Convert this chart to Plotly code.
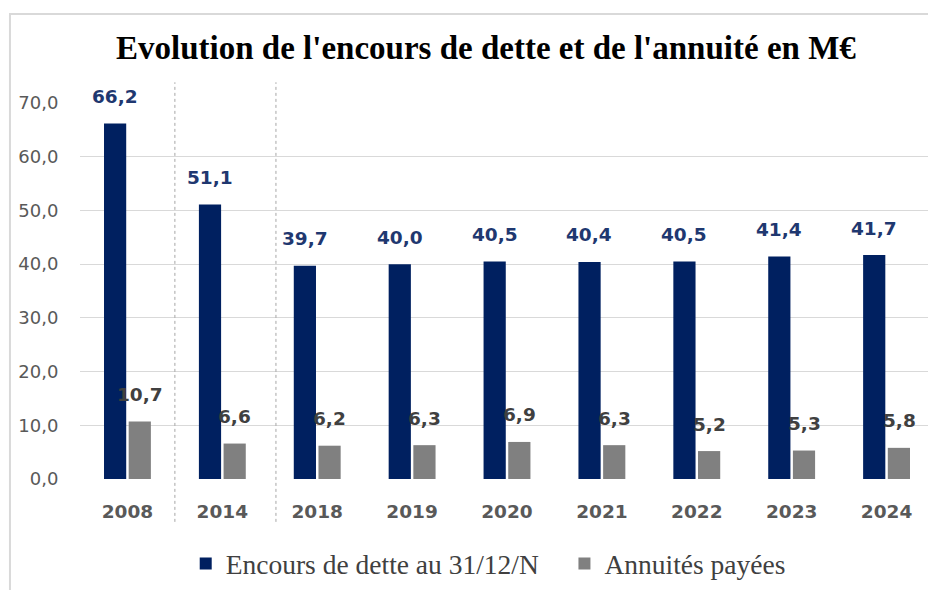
import plotly.graph_objects as go

years = ["2008", "2014", "2018", "2019", "2020", "2021", "2022", "2023", "2024"]
encours = [66.2, 51.1, 39.7, 40.0, 40.5, 40.4, 40.5, 41.4, 41.7]
annuites = [10.7, 6.6, 6.2, 6.3, 6.9, 6.3, 5.2, 5.3, 5.8]
y_ticks = [0, 10, 20, 30, 40, 50, 60, 70]
y_tick_labels = ["0,0", "10,0", "20,0", "30,0", "40,0", "50,0", "60,0", "70,0"]
series_names = ["Encours de dette au 31/12/N", "Annuités payées"]

DARK = "#002060"
GRAY = "#808080"

def fr(v):
    return f"{v:.1f}".replace(".", ",")

fig = go.Figure()
fig.add_trace(go.Bar(x=years, y=encours, name=series_names[0] + "\u00a0" * 3,
                     marker=dict(color=DARK, line=dict(width=0))))
fig.add_trace(go.Bar(x=years, y=annuites, name=series_names[1],
                     marker=dict(color=GRAY, line=dict(width=0))))

annotations = []
for i, v in enumerate(encours):
    annotations.append(dict(x=i, y=v, xref="x", yref="y", text=f"<b>{fr(v)}</b>",
                            showarrow=False, xshift=-12.5, yshift=27, yanchor="middle",
                            font=dict(family="DejaVu Sans", size=18.5, color="#1F3870")))
for i, v in enumerate(annuites):
    annotations.append(dict(x=i, y=v, xref="x", yref="y", text=f"<b>{fr(v)}</b>",
                            showarrow=False, xshift=12.5, yshift=27, yanchor="middle",
                            font=dict(family="DejaVu Sans", size=18.5, color="#404040")))

shapes = [
    dict(type="line", xref="x", yref="paper", x0=0.5, x1=0.5, y0=-0.114, y1=1.055,
         line=dict(color="#A6A6A6", width=1, dash="dot")),
    dict(type="line", xref="x", yref="paper", x0=1.565, x1=1.565, y0=-0.114, y1=1.055,
         line=dict(color="#A6A6A6", width=1, dash="dot")),
    dict(type="rect", xref="paper", yref="paper", x0=-0.082, x1=1.2, y0=-0.5, y1=1.2367,
         line=dict(color="#D9D9D9", width=2), fillcolor="rgba(0,0,0,0)", layer="below"),
]

fig.update_layout(
    width=928, height=582,
    margin=dict(l=72, r=2, t=95, b=108),
    paper_bgcolor="white", plot_bgcolor="white",
    barmode="group", bargap=0.48, bargroupgap=0.1,
    title=dict(text="<b>Evolution de l'encours de dette et de l'annuité en M€</b>",
               x=0.515, xanchor="center", y=1 - 39 / 582, yanchor="middle", yref="container",
               font=dict(family="Liberation Serif", size=33, color="#000000")),
    xaxis=dict(type="category", range=[-0.5, 8.5], autorange=False, automargin=False,
               showgrid=False, showline=False, zeroline=False,
               ticks="outside", ticklen=0, ticklabelstandoff=16,
               tickfont=dict(family="DejaVu Sans", size=18.5, color="#595959"),
               tickprefix="<b>", ticksuffix="</b>"),
    yaxis=dict(range=[0, 70], autorange=False, automargin=False,
               tickvals=y_ticks, ticktext=y_tick_labels,
               showgrid=True, gridcolor="#D9D9D9", gridwidth=1, zeroline=False,
               showline=False, ticks="outside", ticklen=0, ticklabelstandoff=17,
               tickfont=dict(family="DejaVu Sans", size=18, color="#595959")),
    legend=dict(orientation="h", x=0.478, xanchor="center", y=-0.225, yanchor="middle",
                font=dict(family="Liberation Serif", size=27.5, color="#404040"),
                itemwidth=30, tracegroupgap=0),
    annotations=annotations,
    shapes=shapes,
    showlegend=True,
)

fig.write_html("out.html")
